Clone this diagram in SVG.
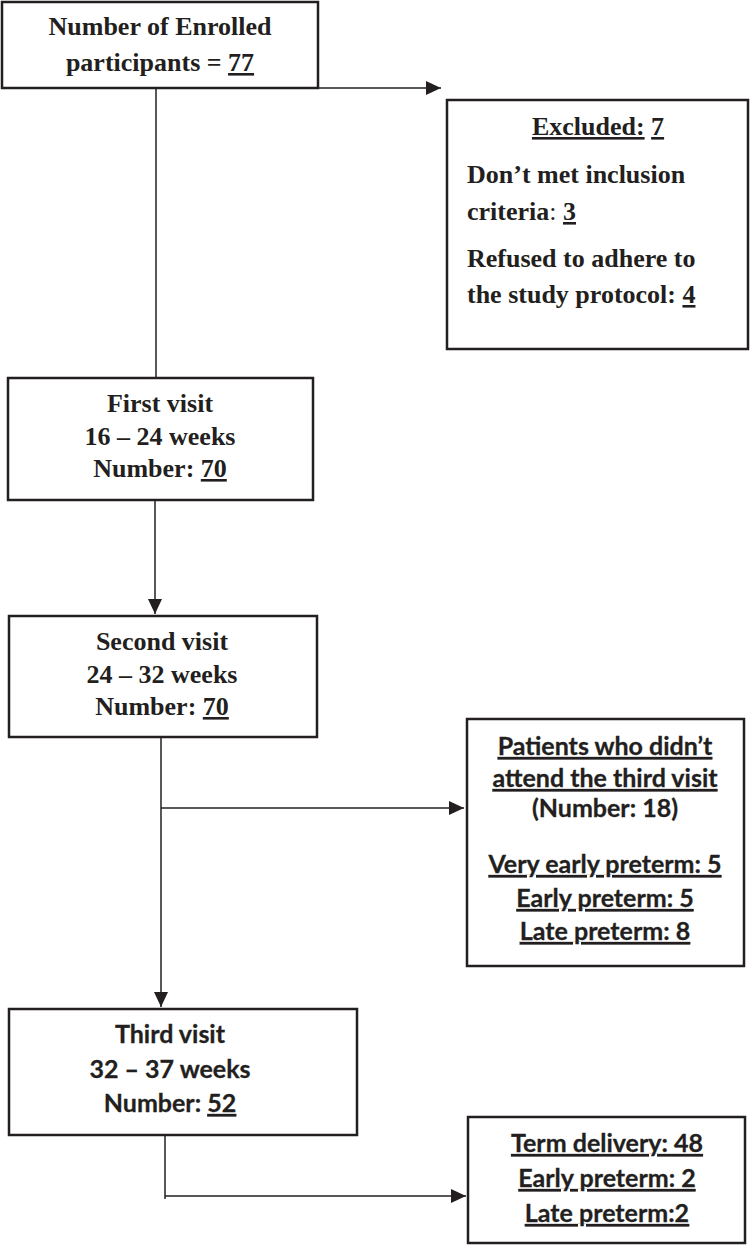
<svg xmlns="http://www.w3.org/2000/svg" width="750" height="1245" viewBox="0 0 750 1245">
<style>
.box{fill:#fff;stroke:#231f20;stroke-width:2.5}
.ln{fill:none;stroke:#231f20;stroke-width:1.5}
.serif{font-family:"Liberation Serif","Times New Roman",serif;font-weight:bold;font-size:26px;fill:#231f20}
.sans{font-family:Lato,"Liberation Sans",sans-serif;font-weight:bold;font-size:25px;fill:#231f20;stroke:#231f20;stroke-width:0.3}
.c{text-anchor:middle}
.u{text-decoration:underline}
</style>
<defs>
<marker id="ah" markerUnits="userSpaceOnUse" markerWidth="16" markerHeight="14" refX="15" refY="7" orient="auto">
<path d="M0,0 L15,7 L0,14 Z" fill="#231f20"/>
</marker>
</defs>
<g id="connectors">
<line class="ln" x1="318" y1="88" x2="441" y2="88" marker-end="url(#ah)"/>
<line class="ln" x1="156" y1="88" x2="156" y2="378"/>
<line class="ln" x1="155" y1="500" x2="155" y2="614" marker-end="url(#ah)"/>
<line class="ln" x1="161" y1="737" x2="161" y2="1007" marker-end="url(#ah)"/>
<line class="ln" x1="161" y1="808" x2="464" y2="808" marker-end="url(#ah)"/>
<line class="ln" x1="165" y1="1135" x2="165" y2="1199"/>
<line class="ln" x1="165" y1="1196" x2="466" y2="1196" marker-end="url(#ah)"/>
</g>
<g id="enrolled">
<rect class="box" x="2" y="2" width="316" height="86"/>
<text class="serif c" x="160" y="35">Number of Enrolled</text>
<text class="serif c" x="160" y="71">participants = <tspan class="u">77</tspan></text>
</g>
<g id="excluded">
<rect class="box" x="447" y="100" width="301" height="249"/>
<text class="serif c" x="598" y="135"><tspan class="u">Excluded:</tspan> <tspan class="u">7</tspan></text>
<text class="serif" x="467" y="183">Don’t met inclusion</text>
<text class="serif" x="467" y="220">criteria<tspan font-weight="normal">:</tspan> <tspan class="u">3</tspan></text>
<text class="serif" x="467" y="267">Refused to adhere to</text>
<text class="serif" x="467" y="303">the study protocol: <tspan class="u">4</tspan></text>
</g>
<g id="first-visit">
<rect class="box" x="8" y="378" width="305" height="122"/>
<text class="serif c" x="160" y="412">First visit</text>
<text class="serif c" x="160" y="445">16 – 24 weeks</text>
<text class="serif c" x="160" y="477">Number: <tspan class="u">70</tspan></text>
</g>
<g id="second-visit">
<rect class="box" x="9" y="616" width="308" height="121"/>
<text class="serif c" x="162" y="650">Second visit</text>
<text class="serif c" x="162" y="683">24 – 32 weeks</text>
<text class="serif c" x="162" y="715">Number: <tspan class="u">70</tspan></text>
</g>
<g id="not-attended">
<rect class="box" x="467" y="719" width="277" height="247"/>
<text class="sans c u" x="605" y="755">Patients who didn’t</text>
<text class="sans c u" x="605" y="787">attend the third visit</text>
<text class="sans c" x="605" y="817">(Number: 18)</text>
<text class="sans c u" x="605" y="873">Very early preterm: 5</text>
<text class="sans c u" x="605" y="907">Early preterm: 5</text>
<text class="sans c u" x="605" y="940">Late preterm: 8</text>
</g>
<g id="third-visit">
<rect class="box" x="9" y="1009" width="348" height="126"/>
<text class="sans c" x="170" y="1043">Third visit</text>
<text class="sans c" x="170" y="1078">32 – 37 weeks</text>
<text class="sans c" x="170" y="1112">Number: <tspan class="u">52</tspan></text>
</g>
<g id="outcome">
<rect class="box" x="468" y="1117" width="277" height="126"/>
<text class="sans c u" x="607" y="1152">Term delivery: 48</text>
<text class="sans c u" x="607" y="1187">Early preterm: 2</text>
<text class="sans c u" x="607" y="1222">Late preterm:2</text>
</g>
</svg>
